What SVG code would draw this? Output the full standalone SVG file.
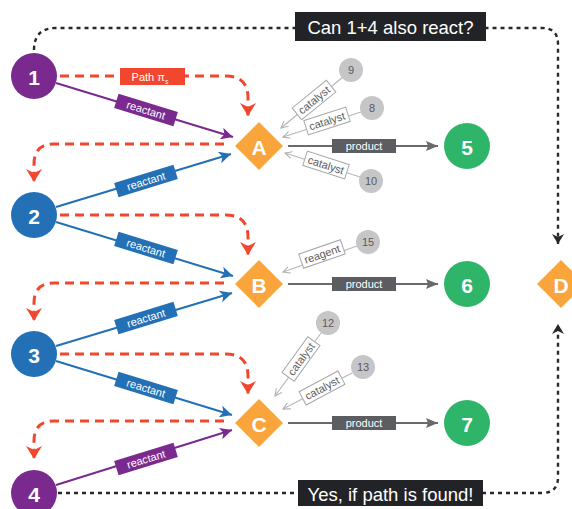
<svg xmlns="http://www.w3.org/2000/svg" width="572" height="509" viewBox="0 0 572 509">
<style>
text{font-family:"Liberation Sans","Helvetica",Arial,sans-serif}
.num{fill:#fff;font-size:21px;font-weight:bold;text-anchor:middle;dominant-baseline:central}
.dia{fill:#f9a53c}
.gc{fill:#c6c6c8}
.gt{fill:#5a5a5a;font-size:11px;text-anchor:middle;dominant-baseline:central}
.red{fill:none;stroke:#f2472e;stroke-width:3;stroke-dasharray:9 6}
.dot{fill:none;stroke:#27282b;stroke-width:2.4;stroke-dasharray:4 4}
.rp{stroke:#7a2a8e;stroke-width:2}
.rb{stroke:#2370b6;stroke-width:2}
.pl{stroke:#6a6a6c;stroke-width:1.8}
.cl{stroke:#b8b8ba;stroke-width:1.2}
.lbl{fill:#fff;font-size:11px;text-anchor:middle;dominant-baseline:central}
.clbl{fill:#fff;stroke:#a8a8aa;stroke-width:1}
.ct{fill:#5a5a5a;font-size:11px;text-anchor:middle;dominant-baseline:central}
.big{fill:#fff;font-size:18.5px;text-anchor:middle;dominant-baseline:central}
</style>
<defs>
<marker id="mP" markerUnits="userSpaceOnUse" markerWidth="14" markerHeight="12" refX="12" refY="6" orient="auto"><path d="M0,0 L12,6 L0,12 L3,6 Z" fill="#7a2a8e"/></marker>
<marker id="mB" markerUnits="userSpaceOnUse" markerWidth="14" markerHeight="12" refX="12" refY="6" orient="auto"><path d="M0,0 L12,6 L0,12 L3,6 Z" fill="#2370b6"/></marker>
<marker id="mG" markerUnits="userSpaceOnUse" markerWidth="14" markerHeight="12" refX="12" refY="5" orient="auto"><path d="M0,0 L12,5 L0,10 L2,5 Z" fill="#6a6a6c"/></marker>
<marker id="mR" markerUnits="userSpaceOnUse" markerWidth="18" markerHeight="16" refX="13" refY="8" orient="auto"><path d="M0,0 L13,8 L0,16 L4,8 Z" fill="#f2472e"/></marker>
<marker id="mK" markerUnits="userSpaceOnUse" markerWidth="14" markerHeight="12" refX="10" refY="6" orient="auto"><path d="M0,0 L10,6 L0,12 L3,6 Z" fill="#27282b"/></marker>
<marker id="mC" markerUnits="userSpaceOnUse" markerWidth="10" markerHeight="10" refX="7" refY="4" orient="auto"><path d="M0,0.5 L7,4 L0,7.5" fill="none" stroke="#b0b0b2" stroke-width="1.1"/></marker>
</defs>

<g id="connectors">
<path class="dot" d="M34,50 Q34,28 56,28 H542 Q558,28 558,44 V244" marker-end="url(#mK)"/>
<path class="dot" d="M58,493 H542 Q558,493 558,477 V324" marker-end="url(#mK)"/>
<path class="red" d="M60,76 H226 Q248,76 248,98 V116" marker-end="url(#mR)"/>
<path class="red" d="M224,144 H54 Q34,144 34,164 V182" marker-end="url(#mR)"/>
<path class="red" d="M60,215 H226 Q248,215 248,237 V255" marker-end="url(#mR)"/>
<path class="red" d="M224,283 H54 Q34,283 34,303 V321" marker-end="url(#mR)"/>
<path class="red" d="M60,354 H226 Q248,354 248,376 V394" marker-end="url(#mR)"/>
<path class="red" d="M224,421 H54 Q34,421 34,441 V459" marker-end="url(#mR)"/>
<line class="rp" x1="56" y1="83" x2="233" y2="137" marker-end="url(#mP)"/>
<line class="rb" x1="56" y1="207" x2="231" y2="154" marker-end="url(#mB)"/>
<line class="rb" x1="56" y1="222" x2="233" y2="276" marker-end="url(#mB)"/>
<line class="rb" x1="56" y1="346" x2="232" y2="293" marker-end="url(#mB)"/>
<line class="rb" x1="56" y1="361" x2="232" y2="415" marker-end="url(#mB)"/>
<line class="rp" x1="56" y1="485" x2="232" y2="430" marker-end="url(#mP)"/>
<line class="pl" x1="288" y1="146" x2="438" y2="146" marker-end="url(#mG)"/>
<line class="pl" x1="288" y1="284" x2="438" y2="284" marker-end="url(#mG)"/>
<line class="pl" x1="288" y1="423" x2="438" y2="423" marker-end="url(#mG)"/>
<line class="cl" x1="343" y1="77" x2="281" y2="128" marker-end="url(#mC)"/>
<line class="cl" x1="361" y1="112" x2="283" y2="137" marker-end="url(#mC)"/>
<line class="cl" x1="360" y1="177" x2="285" y2="153" marker-end="url(#mC)"/>
<line class="cl" x1="357" y1="246" x2="283" y2="272" marker-end="url(#mC)"/>
<line class="cl" x1="321" y1="333" x2="275" y2="396" marker-end="url(#mC)"/>
<line class="cl" x1="352" y1="373" x2="283" y2="409" marker-end="url(#mC)"/>
<rect x="120" y="68" width="65" height="17" fill="#f2472e"/>
<text x="150" y="76.5" class="lbl" font-size="11.5">Path π<tspan font-size="7" dy="4">s</tspan></text>
<g transform="translate(146,110) rotate(17)"><rect x="-31" y="-7.5" width="62" height="15" fill="#7a2a8e"/><text class="lbl" x="0" y="0">reactant</text></g>
<g transform="translate(146,181) rotate(-17)"><rect x="-31" y="-7.5" width="62" height="15" fill="#2370b6"/><text class="lbl" x="0" y="0">reactant</text></g>
<g transform="translate(146,248) rotate(17)"><rect x="-31" y="-7.5" width="62" height="15" fill="#2370b6"/><text class="lbl" x="0" y="0">reactant</text></g>
<g transform="translate(146,318) rotate(-17)"><rect x="-31" y="-7.5" width="62" height="15" fill="#2370b6"/><text class="lbl" x="0" y="0">reactant</text></g>
<g transform="translate(146,388) rotate(17)"><rect x="-31" y="-7.5" width="62" height="15" fill="#2370b6"/><text class="lbl" x="0" y="0">reactant</text></g>
<g transform="translate(146,459) rotate(-17)"><rect x="-31" y="-7.5" width="62" height="15" fill="#7a2a8e"/><text class="lbl" x="0" y="0">reactant</text></g>
<g><rect x="332" y="139" width="64" height="14" fill="#5c5d60"/><text class="lbl" x="364" y="146">product</text></g>
<g><rect x="332" y="277" width="64" height="14" fill="#5c5d60"/><text class="lbl" x="364" y="284">product</text></g>
<g><rect x="332" y="416" width="64" height="14" fill="#5c5d60"/><text class="lbl" x="364" y="423">product</text></g>
<g transform="translate(314,100) rotate(-39)"><rect class="clbl" x="-22" y="-7.5" width="44" height="15"/><text class="ct" x="0" y="0">catalyst</text></g>
<g transform="translate(327,121) rotate(-18)"><rect class="clbl" x="-22" y="-7.5" width="44" height="15"/><text class="ct" x="0" y="0">catalyst</text></g>
<g transform="translate(326,165) rotate(18)"><rect class="clbl" x="-22" y="-7.5" width="44" height="15"/><text class="ct" x="0" y="0">catalyst</text></g>
<g transform="translate(322,254) rotate(-19)"><rect class="clbl" x="-22" y="-7.5" width="44" height="15"/><text class="ct" x="0" y="0">reagent</text></g>
<g transform="translate(301,359) rotate(-54)"><rect class="clbl" x="-22" y="-7.5" width="44" height="15"/><text class="ct" x="0" y="0">catalyst</text></g>
<g transform="translate(322,388) rotate(-28)"><rect class="clbl" x="-22" y="-7.5" width="44" height="15"/><text class="ct" x="0" y="0">catalyst</text></g>
<rect x="295" y="12" width="191" height="29" fill="#222326"/>
<text class="big" x="390.5" y="27">Can 1+4 also react?</text>
<rect x="298" y="480" width="185" height="26" fill="#222326"/>
<text class="big" x="390.5" y="494">Yes, if path is found!</text>
</g>

<g id="n1"><circle cx="34" cy="76" r="23" fill="#7a2a8e"/><text class="num" x="34" y="77">1</text></g>
<g id="n2"><circle cx="34" cy="215" r="23" fill="#2370b6"/><text class="num" x="34" y="216">2</text></g>
<g id="n3"><circle cx="34" cy="354" r="23" fill="#2370b6"/><text class="num" x="34" y="355">3</text></g>
<g id="n4"><circle cx="34" cy="493" r="23" fill="#7a2a8e"/><text class="num" x="34" y="494">4</text></g>
<g id="nA"><path class="dia" d="M259,122 L283,146 L259,170 L235,146 Z"/><text class="num" x="259" y="147" font-size="19">A</text></g>
<g id="nB"><path class="dia" d="M259,260 L283,284 L259,308 L235,284 Z"/><text class="num" x="259" y="285" font-size="19">B</text></g>
<g id="nC"><path class="dia" d="M259,399 L283,423 L259,447 L235,423 Z"/><text class="num" x="259" y="424" font-size="19">C</text></g>
<g id="nD"><path class="dia" d="M561,260 L585,284 L561,308 L537,284 Z"/><text class="num" x="561" y="285" font-size="19">D</text></g>
<g id="n5"><circle cx="467" cy="146" r="23" fill="#2fb56a"/><text class="num" x="467" y="147">5</text></g>
<g id="n6"><circle cx="467" cy="284" r="23" fill="#2fb56a"/><text class="num" x="467" y="285">6</text></g>
<g id="n7"><circle cx="467" cy="423" r="23" fill="#2fb56a"/><text class="num" x="467" y="424">7</text></g>
<g id="n9"><circle class="gc" cx="351" cy="70" r="12"/><text class="gt" x="351" y="70">9</text></g>
<g id="n8"><circle class="gc" cx="372" cy="108" r="12"/><text class="gt" x="372" y="108">8</text></g>
<g id="n10"><circle class="gc" cx="371" cy="181" r="12"/><text class="gt" x="371" y="181">10</text></g>
<g id="n15"><circle class="gc" cx="368" cy="242" r="12"/><text class="gt" x="368" y="242">15</text></g>
<g id="n12"><circle class="gc" cx="328" cy="323" r="12"/><text class="gt" x="328" y="323">12</text></g>
<g id="n13"><circle class="gc" cx="363" cy="367" r="12"/><text class="gt" x="363" y="367">13</text></g>
</svg>
